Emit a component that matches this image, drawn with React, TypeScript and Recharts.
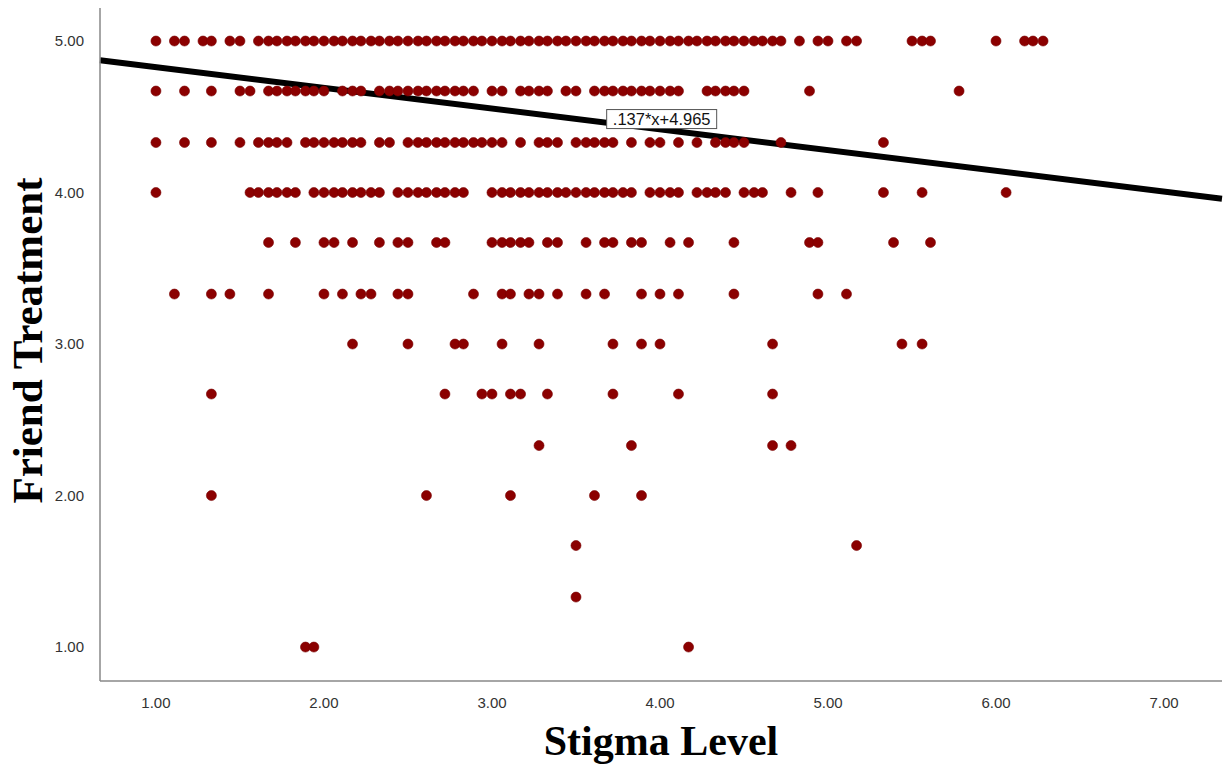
import React from 'react';
import {
  ScatterChart, Scatter, XAxis, YAxis, ReferenceLine, ReferenceDot,
} from 'recharts';

// Stigma level of every respondent, grouped by their friend-treatment score
const stigmaAt500 = [
  1.00, 1.11, 1.17, 1.28, 1.33, 1.44, 1.50, 1.61, 1.67, 1.72, 1.78, 1.83, 1.89, 1.94,
  2.00, 2.06, 2.11, 2.17, 2.22, 2.28, 2.33, 2.39, 2.44, 2.50, 2.56, 2.61, 2.67, 2.72,
  2.78, 2.83, 2.89, 2.94, 3.00, 3.06, 3.11, 3.17, 3.22, 3.28, 3.33, 3.39, 3.44, 3.50,
  3.56, 3.61, 3.67, 3.72, 3.78, 3.83, 3.89, 3.94, 4.00, 4.06, 4.11, 4.17, 4.22, 4.28,
  4.33, 4.39, 4.44, 4.50, 4.56, 4.61, 4.67, 4.72, 4.83, 4.94, 5.00, 5.11, 5.17, 5.50,
  5.56, 5.61, 6.00, 6.17, 6.22, 6.28,
];
const stigmaAt467 = [
  1.00, 1.17, 1.33, 1.50, 1.56, 1.67, 1.72, 1.78, 1.83, 1.89, 1.94, 2.00, 2.11, 2.17,
  2.22, 2.33, 2.39, 2.44, 2.50, 2.56, 2.61, 2.67, 2.72, 2.78, 2.83, 2.89, 3.00, 3.06,
  3.17, 3.22, 3.28, 3.33, 3.44, 3.50, 3.61, 3.67, 3.72, 3.78, 3.83, 3.89, 3.94, 4.00,
  4.06, 4.11, 4.28, 4.33, 4.39, 4.44, 4.50, 4.89, 5.78,
];
const stigmaAt433 = [
  1.00, 1.17, 1.33, 1.50, 1.61, 1.67, 1.72, 1.78, 1.89, 1.94, 2.00, 2.06, 2.11, 2.17,
  2.22, 2.33, 2.39, 2.50, 2.56, 2.61, 2.67, 2.72, 2.78, 2.83, 2.89, 2.94, 3.00, 3.06,
  3.17, 3.28, 3.33, 3.39, 3.50, 3.56, 3.61, 3.67, 3.72, 3.83, 3.94, 4.00, 4.11, 4.22,
  4.33, 4.39, 4.44, 4.50, 4.72, 5.33,
];
const stigmaAt400 = [
  1.00, 1.56, 1.61, 1.67, 1.72, 1.78, 1.83, 1.94, 2.00, 2.06, 2.11, 2.17, 2.22, 2.28,
  2.33, 2.44, 2.50, 2.56, 2.61, 2.67, 2.72, 2.78, 2.83, 3.00, 3.06, 3.11, 3.17, 3.22,
  3.28, 3.33, 3.39, 3.44, 3.50, 3.56, 3.61, 3.67, 3.72, 3.78, 3.83, 3.94, 4.00, 4.06,
  4.11, 4.22, 4.28, 4.33, 4.39, 4.50, 4.56, 4.61, 4.78, 4.94, 5.33, 5.56, 6.06,
];
const stigmaAt367 = [
  1.67, 1.83, 2.00, 2.06, 2.17, 2.33, 2.44, 2.50, 2.67, 2.72, 3.00, 3.06, 3.11, 3.17,
  3.22, 3.33, 3.39, 3.56, 3.67, 3.72, 3.83, 3.89, 4.06, 4.17, 4.44, 4.89, 4.94, 5.39, 5.61,
];
const stigmaAt333 = [
  1.11, 1.33, 1.44, 1.67, 2.00, 2.11, 2.22, 2.28, 2.44, 2.50, 2.89, 3.06, 3.11, 3.22,
  3.28, 3.39, 3.56, 3.67, 3.89, 4.00, 4.11, 4.44, 4.94, 5.11,
];
const stigmaAt300 = [2.17, 2.50, 2.78, 2.83, 3.06, 3.28, 3.72, 3.89, 4.00, 4.67, 5.44, 5.56];
const stigmaAt267 = [1.33, 2.72, 2.94, 3.00, 3.11, 3.17, 3.33, 3.72, 4.11, 4.67];
const stigmaAt233 = [3.28, 3.83, 4.67, 4.78];
const stigmaAt200 = [1.33, 2.61, 3.11, 3.61, 3.89];
const stigmaAt167 = [3.50, 5.17];
const stigmaAt133 = [3.50];
const stigmaAt100 = [1.89, 1.94, 4.17];

const friendLevels: [number, number[]][] = [
  [5.0, stigmaAt500], [4.67, stigmaAt467], [4.33, stigmaAt433], [4.0, stigmaAt400],
  [3.67, stigmaAt367], [3.33, stigmaAt333], [3.0, stigmaAt300], [2.67, stigmaAt267],
  [2.33, stigmaAt233], [2.0, stigmaAt200], [1.67, stigmaAt167], [1.33, stigmaAt133],
  [1.0, stigmaAt100],
];

const xTicks = [1, 2, 3, 4, 5, 6, 7];
const yTicks = [1, 2, 3, 4, 5];

// fit line: y = -.137*x + 4.965
const SLOPE = -0.137;
const INTERCEPT = 4.965;
const FIT_LABEL = '.137*x+4.965';

const X_DOMAIN: [number, number] = [0.667, 7.345];
const Y_DOMAIN: [number, number] = [0.776, 5.218];

const points = friendLevels.flatMap(([y, xs]) => xs.map((x) => ({ x, y })));

const fitAt = (x: number) => SLOPE * x + INTERCEPT;

const Dot = (props: any) => (
  <circle cx={props.cx} cy={props.cy} r={5} fill="#8b0000" stroke="#780000" strokeWidth={0.6} />
);

const FitLabel = (props: any) => {
  const w = 110;
  const h = 19;
  return (
    <g>
      <rect x={props.cx - w / 2} y={props.cy - h / 2} width={w} height={h} fill="#fff" stroke="#555" strokeWidth={1} />
      <text
        x={props.cx}
        y={props.cy + 6}
        textAnchor="middle"
        fontFamily="Liberation Sans, Arial, sans-serif"
        fontSize={16.5}
        fill="#111"
      >
        {FIT_LABEL}
      </text>
    </g>
  );
};

const tickStyle = { fontSize: 15, fill: '#333', fontFamily: 'Liberation Sans, Arial, sans-serif' };
const titleFont = 'Liberation Serif, Times New Roman, serif';

export default function App() {
  return (
    <div style={{ position: 'absolute', left: 0, top: 0, width: 1225, height: 765, background: '#fff' }}>
      <ScatterChart width={1225} height={765} margin={{ top: 8, right: 3, bottom: 0, left: 0 }}>
        <XAxis
          type="number"
          dataKey="x"
          domain={X_DOMAIN}
          ticks={xTicks}
          allowDataOverflow
          height={84}
          tickLine={false}
          tickMargin={10}
          axisLine={{ stroke: '#888', strokeWidth: 1.5 }}
          tick={tickStyle}
          tickFormatter={(v: number) => v.toFixed(2)}
          label={{
            value: 'Stigma Level',
            position: 'insideBottom',
            offset: 10,
            style: { fontFamily: titleFont, fontWeight: 'bold', fontSize: 42, fill: '#000' },
          }}
        />
        <YAxis
          type="number"
          dataKey="y"
          domain={Y_DOMAIN}
          ticks={yTicks}
          allowDataOverflow
          width={100}
          tickLine={false}
          tickMargin={10}
          axisLine={{ stroke: '#888', strokeWidth: 1.5 }}
          tick={tickStyle}
          tickFormatter={(v: number) => v.toFixed(2)}
          label={{
            content: ({ viewBox }: any) => (
              <text
                transform={`translate(42, ${viewBox.y + viewBox.height / 2 - 4}) rotate(-90)`}
                textAnchor="middle"
                fontFamily={titleFont}
                fontWeight="bold"
                fontSize={43}
                fill="#000"
              >
                Friend Treatment
              </text>
            ),
          }}
        />
        <Scatter data={points} shape={Dot} isAnimationActive={false} />
        <ReferenceLine
          segment={[
            { x: X_DOMAIN[0], y: fitAt(X_DOMAIN[0]) },
            { x: X_DOMAIN[1], y: fitAt(X_DOMAIN[1]) },
          ]}
          stroke="#000"
          strokeWidth={6}
        />
        <ReferenceDot x={4.01} y={4.485} shape={FitLabel} />
      </ScatterChart>
    </div>
  );
}
